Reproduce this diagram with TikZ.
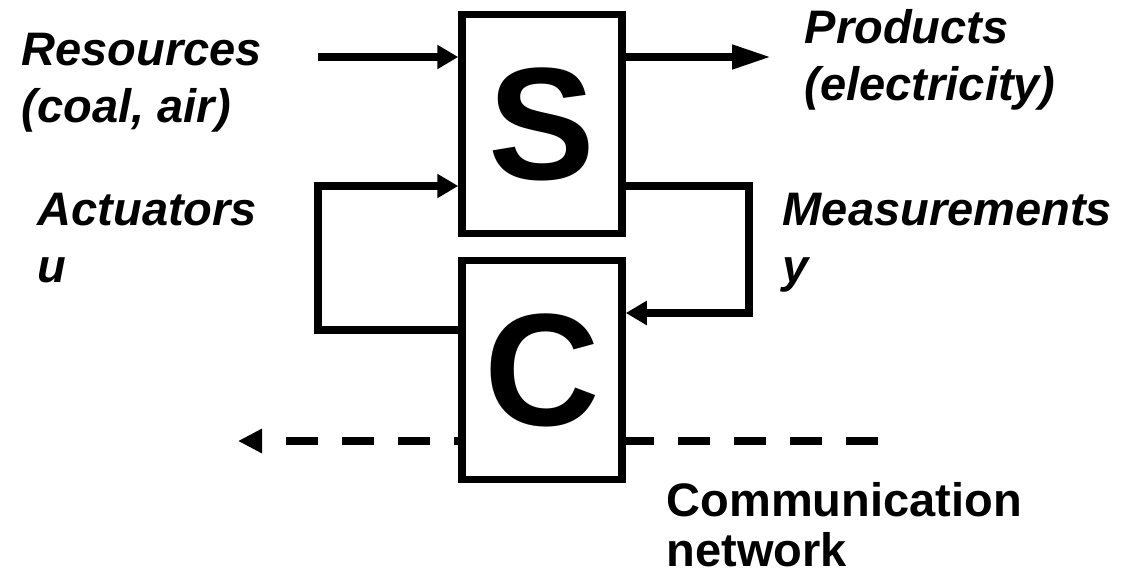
\documentclass[tikz,border=0pt]{standalone}
\usepackage{fontspec}
\setmainfont{Liberation Sans}
\usetikzlibrary{arrows.meta}
\begin{document}
\begin{tikzpicture}[x=1pt,y=-1pt,
  line width=7.5pt,
  block/.style={draw, fill=white, minimum width=160pt, minimum height=219pt,
    inner sep=0pt, font=\fontsize{160}{160}\selectfont\bfseries},
  lbl/.style={anchor=base west, align=left, inner sep=0pt,
    font=\fontsize{47}{57}\selectfont\bfseries\itshape},
  plainlbl/.style={lbl, font=\fontsize{47}{50}\selectfont\bfseries},
  tip/.style={-{Triangle[length=21pt,width=23pt]}},
  longtip/.style={-{Triangle[length=39pt,width=23pt]}},
  netline/.style={dash pattern=on 32pt off 24pt, -{Triangle[length=24pt,width=23pt]}}]
  \useasboundingbox (0,0) rectangle (1139,577);

  % communication network line, passing behind the controller
  \coordinate (netR) at (878,441);
  \coordinate (netL) at (238,441);
  \draw[netline] (netR) -- (netL);

  % system and controller
  \node[block] (S) at (542,124) {S};
  \node[block] (C) at (542,370) {C};

  % resources in, products out
  \coordinate (resin) at (318,57);
  \coordinate (prodout) at (771,57);
  \draw[tip] (resin) -- (S.west |- resin);
  \draw[longtip] (S.east |- prodout) -- (prodout);

  % actuator loop (C -> S)
  \coordinate (ubot) at (318,330);
  \coordinate (utop) at (318,186);
  \draw[tip] (C.west |- ubot) -- (ubot) -- (utop) -- (S.west |- utop);

  % measurement loop (S -> C)
  \coordinate (ytop) at (749,186);
  \coordinate (ybot) at (749,313);
  \draw[tip] (S.east |- ytop) -- (ytop) -- (ybot) -- (C.east |- ybot);

  % labels (anchored at the baseline of their last line)
  \node[lbl] (res) at (18,123) {Resources\\(coal, air)};
  \node[lbl] (prod) at (801,101) {Products\\(electricity)};
  \node[lbl] (act) at (34,282) {Actuators\\u};
  \node[lbl] (meas) at (779,282) {Measurements\\y};
  \node[plainlbl] (comm) at (663,566) {Communication\\network};
\end{tikzpicture}
\end{document}
